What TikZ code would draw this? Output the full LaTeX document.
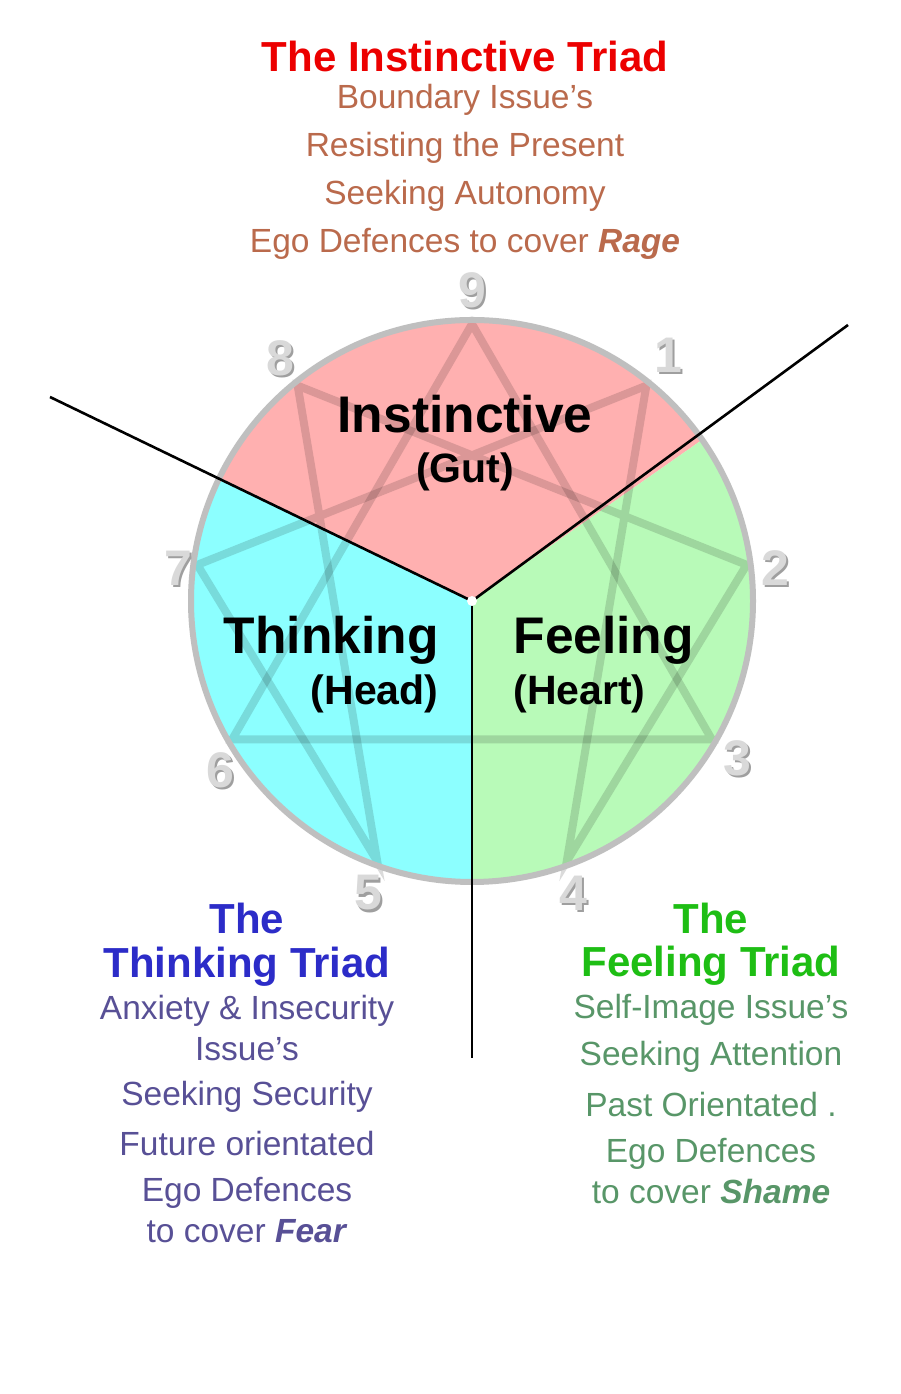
\documentclass[tikz,border=0pt]{standalone}
\usepackage{fontspec}
\setmainfont{Liberation Sans}
\usetikzlibrary{positioning}

\definecolor{pnk}{RGB}{255,176,176}
\definecolor{cyn}{RGB}{140,255,255}
\definecolor{grn}{RGB}{184,250,184}
\definecolor{ttl}{RGB}{236,0,0}
\definecolor{brn}{RGB}{186,106,76}
\definecolor{blu}{RGB}{44,44,200}
\definecolor{prp}{RGB}{88,80,150}
\definecolor{gtl}{RGB}{30,190,20}
\definecolor{gln}{RGB}{88,150,104}

\tikzset{
  bigword/.style={font=\bfseries\fontsize{51.5}{54}\selectfont},
  smallword/.style={font=\bfseries\fontsize{41}{44}\selectfont},
  triadhead/.style={font=\bfseries\fontsize{42}{46}\selectfont},
  triadline/.style={font=\fontsize{33.5}{36}\selectfont},
  digit/.style={font=\bfseries\fontsize{50}{52}\selectfont,text=gray!30},
  digitshade/.style={font=\bfseries\fontsize{50}{52}\selectfont,text=gray!75},
  divider/.style={line width=2.6pt,black}
}

\begin{document}
\begin{tikzpicture}[x=1pt,y=1pt]
  \useasboundingbox[fill=white] (0,0) rectangle (900,1394);

  \coordinate (c) at (472,793);
  \coordinate (lt) at (50,997);
  \coordinate (rt) at (848,1069);
  \coordinate (bt) at (472,336);

  \fill[pnk] (c) -- ++(35:281) arc[start angle=35,end angle=154,radius=281] -- cycle;
  \fill[cyn] (c) -- ++(154:281) arc[start angle=154,end angle=270,radius=281] -- cycle;
  \fill[grn] (c) -- ++(270:281) arc[start angle=270,end angle=395,radius=281] -- cycle;

  \foreach \d/\a in {9/90,1/51,2/7.5,3/-30,4/-70,5/-110,6/-150,7/172.5,8/129} {
    \coordinate (v\d) at ([shift={(\a:277)}]c);
  }
  \draw[line width=8pt,black,opacity=0.14,line join=miter] (v9) -- (v3) -- (v6) -- cycle;
  \draw[line width=8pt,black,opacity=0.14,line join=miter]
    (v1) -- (v4) -- (v2) -- (v8) -- (v5) -- (v7) -- cycle;
  \draw[line width=6pt,gray!50] (c) circle[radius=281];

  \draw[divider] (c) -- (lt);
  \draw[divider] (c) -- (rt);
  \draw[divider] (c) -- (bt);
  \fill[white] (c) circle[radius=5];

  \foreach \d/\x/\y in {9/472/1104,1/668/1039,2/775/826,3/737/636,4/573/501,
      5/368/501,6/220/624,7/178/826,8/280/1036} {
    \node[digitshade] (s\d) at (\x+2.5,\y-2.5) {\d};
    \node[digit] (n\d) at (\x,\y) {\d};
  }

  \node[bigword] (inst) at (465,980) {Instinctive};
  \node[smallword] (gut) at (465,922) {(Gut)};
  \node[bigword,anchor=east] (think) at (442,754) {Thinking};
  \node[smallword,anchor=east] (head) at (442,700) {(Head)};
  \node[bigword,anchor=west] (feel) at (510,754) {Feeling};
  \node[smallword,anchor=west] (heart) at (510,700) {(Heart)};

  \node[triadhead,text=ttl] (ihead) at (465,1337) {The Instinctive Triad};
  \foreach \t/\y [count=\i] in {Boundary Issue’s/1294,Resisting the Present/1246,
      Seeking Autonomy/1198,Ego Defences to cover \textbf{\textit{Rage}}/1150} {
    \node[triadline,text=brn] (iline\i) at (465,\y) {\t};
  }

  \node[triadhead,text=blu] (tthe) at (247,476) {The};
  \node[triadhead,text=blu] (thead) at (247,427) {Thinking Triad};
  \foreach \t/\y [count=\i] in {Anxiety \& Insecurity/383,Issue’s/345,Seeking Security/297,
      Future orientated/250,Ego Defences/201,to cover \textbf{\textit{Fear}}/163} {
    \node[triadline,text=prp] (tline\i) at (247,\y) {\t};
  }

  \node[triadhead,text=gtl] (fthe) at (711,476) {The};
  \node[triadhead,text=gtl] (fhead) at (711,428) {Feeling Triad};
  \foreach \t/\y [count=\i] in {Self-Image Issue’s/384,Seeking Attention/337,
      Past Orientated ./289,Ego Defences/240,to cover \textbf{\textit{Shame}}/202} {
    \node[triadline,text=gln] (fline\i) at (711,\y) {\t};
  }
\end{tikzpicture}
\end{document}
